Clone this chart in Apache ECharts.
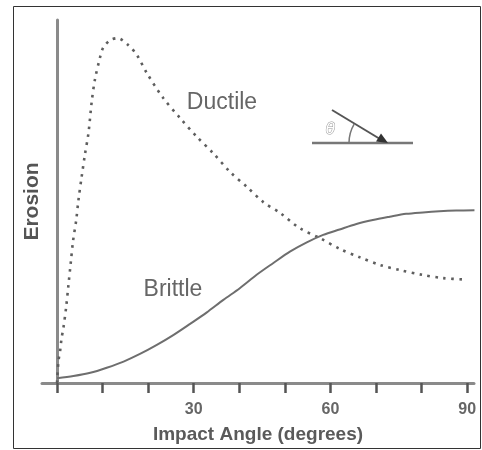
<!DOCTYPE html>
<html>
<head>
<meta charset="utf-8">
<script src="https://cdn.jsdelivr.net/npm/echarts@6/dist/echarts.min.js"></script>
<style>
  html, body { margin: 0; padding: 0; background: #fff; }
  #chart { width: 482px; height: 450px; }
</style>
</head>
<body>
<div id="chart"></div>
<script>
// Erosion rate versus particle impact angle for ductile and brittle materials
const ductileAngles = [0, 0.3, 0.7, 1.0, 1.4, 2.0, 2.5, 3.0, 3.5, 4.2, 4.7, 5.4, 6.1, 6.9, 7.6, 8.3, 9.4, 10.1, 11.6, 13.3, 15.6, 17.5, 19.7, 23.3, 27, 30.7, 34.2, 38, 41.7, 45.2, 49, 53.3, 57.7, 62.1, 66.5, 70.9, 75.3, 80.1, 84.7, 89.6];
const ductileErosion = [0, 5.9, 9.1, 12.4, 15.2, 20.9, 27, 33, 39, 44.8, 50.4, 56.8, 62.8, 68.9, 77.4, 83.5, 89.5, 92.3, 94.4, 95, 93.1, 90.4, 85.4, 78.5, 73, 67.8, 63.4, 58.1, 54, 49.9, 46.8, 42.6, 39.9, 36.9, 34.6, 32.5, 31.1, 29.8, 28.9, 28.5];

const brittleAngles = [0, 3.6, 7.3, 10.9, 14.6, 18.2, 21.9, 25.5, 29.2, 32.8, 36.5, 40.1, 43.8, 47.4, 51.1, 54.7, 58.4, 62, 65.7, 69.3, 73, 76.6, 80.3, 83.9, 87.6, 91.6];
const brittleErosion = [1.3, 1.9, 2.8, 4.2, 5.9, 8.0, 10.5, 13.2, 16.3, 19.4, 22.9, 26.1, 29.8, 33, 36.2, 38.7, 40.8, 42.3, 43.8, 44.9, 45.8, 46.6, 47, 47.3, 47.5, 47.6];

const tickAngles = [0, 10, 20, 30, 40, 50, 60, 70, 80, 90];
const labelAngles = [30, 60, 90];

const seriesNames = ['Ductile', 'Brittle'];

const zip = (xs, ys) => xs.map((x, i) => [x, ys[i]]);

const chart = echarts.init(document.getElementById('chart'), null, { renderer: 'canvas' });

const textFont = 'Liberation Sans, Arial, Helvetica, sans-serif';

chart.setOption({
  backgroundColor: '#ffffff',
  animation: false,
  grid: { left: 42, right: 8, top: 20, bottom: 67 },
  xAxis: {
    type: 'value',
    min: -3.3,
    max: 91.5,
    name: 'Impact Angle (degrees)',
    nameLocation: 'middle',
    nameGap: 42,
    nameTextStyle: { fontFamily: textFont, fontSize: 19, fontWeight: 'bold', color: '#5a5a5a' },
    axisLine: { show: true, onZero: true, lineStyle: { color: '#8a8a8a', width: 3 } },
    axisTick: { show: true, customValues: tickAngles, length: 10, inside: false, lineStyle: { color: '#555', width: 2.5 } },
    axisLabel: { show: true, customValues: labelAngles, margin: 19, fontFamily: textFont, fontSize: 16, fontWeight: 'bold', color: '#666' },
    splitLine: { show: false }
  },
  yAxis: {
    type: 'value',
    min: 0,
    max: 100,
    name: 'Erosion',
    nameLocation: 'middle',
    nameGap: -1,
    nameTextStyle: { fontFamily: textFont, fontSize: 21, fontWeight: 'bold', color: '#555' },
    axisLine: { show: true, onZero: true, lineStyle: { color: '#8a8a8a', width: 3 } },
    axisTick: { show: false },
    axisLabel: { show: false },
    splitLine: { show: false }
  },
  series: [
    {
      name: seriesNames[0],
      type: 'line',
      data: zip(ductileAngles, ductileErosion),
      smooth: 0.3,
      showSymbol: false,
      lineStyle: { color: '#5e5e5e', width: 2.6, type: [2.6, 5.4], cap: 'butt' },
      z: 3
    },
    {
      name: seriesNames[1],
      type: 'line',
      data: zip(brittleAngles, brittleErosion),
      smooth: 0.3,
      showSymbol: false,
      lineStyle: { color: '#6e6e6e', width: 2 },
      z: 3
    }
  ],
  graphic: [
    // outer frame
    { type: 'rect', shape: { x: 13.5, y: 6.5, width: 467, height: 442 }, style: { fill: 'none', stroke: '#333', lineWidth: 1 }, silent: true },
    // curve labels
    { type: 'text', x: 222, y: 103, style: { text: seriesNames[0], font: '23px ' + textFont, fill: '#666', align: 'center', verticalAlign: 'middle' } },
    { type: 'text', x: 173, y: 290, style: { text: seriesNames[1], font: '23px ' + textFont, fill: '#666', align: 'center', verticalAlign: 'middle' } },
    // impact angle sketch
    { type: 'line', shape: { x1: 312, y1: 143, x2: 413, y2: 143 }, style: { stroke: '#777', lineWidth: 2.5 } },
    { type: 'line', shape: { x1: 332, y1: 110, x2: 380, y2: 139 }, style: { stroke: '#555', lineWidth: 2 } },
    { type: 'polygon', shape: { points: [[388, 143], [376, 141.5], [381, 133.5]] }, style: { fill: '#333' } },
    { type: 'arc', shape: { cx: 386, cy: 143, r: 37, startAngle: Math.PI * 1.17, endAngle: Math.PI, clockwise: false }, style: { stroke: '#777', lineWidth: 1.5, fill: 'none' } },
    { type: 'text', x: 330, y: 129, style: { text: 'θ', font: 'italic 17px ' + textFont, fill: '#fff', stroke: '#999', lineWidth: 1, align: 'center', verticalAlign: 'middle' } }
  ]
});
</script>
</body>
</html>
